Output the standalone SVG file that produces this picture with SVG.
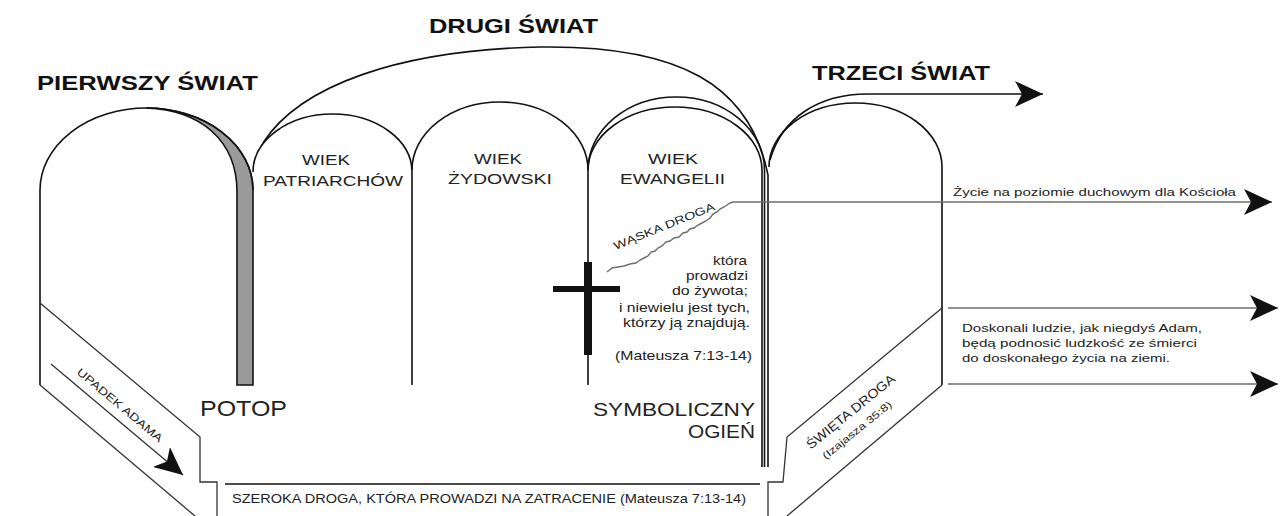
<svg xmlns="http://www.w3.org/2000/svg" width="1282" height="516" viewBox="0 0 1282 516">
<style>
.ln{fill:none;stroke:#111;stroke-width:1.6;stroke-linejoin:miter}
.thin{fill:none;stroke:#333;stroke-width:1.3}
.gr{fill:none;stroke:#6e6e6e;stroke-width:1.4}
.h{font-family:"Liberation Sans",Arial,sans-serif;font-weight:bold;font-size:21px;fill:#111}
.t{font-family:"Liberation Sans",Arial,sans-serif;fill:#222}
.w{font-size:15px}
.s{font-size:13px}
.xs{font-size:11px}
</style>
<defs>
<marker id="ah" viewBox="0 0 28 26" refX="28" refY="13" markerWidth="28" markerHeight="26" markerUnits="userSpaceOnUse" orient="auto">
<path d="M0,0 L28,13 L0,26 L7,13 Z" fill="#111"/>
</marker>
</defs>
<rect width="1282" height="516" fill="#fff"/>

<g id="pierwszy-swiat">
<path d="M146.5,108 C200,110 237,140 237,192 L237,385 L253,385 L253,190 A106.5,82 0 0 0 146.5,108 Z" fill="#9a9a9a" stroke="#111" stroke-width="1.6"/>
<path class="ln" d="M40,385 L40,190 A106.5,82 0 0 1 253,190"/>
<text class="h" x="37" y="90" textLength="221" lengthAdjust="spacingAndGlyphs">PIERWSZY ŚWIAT</text>
</g>

<g id="drugi-swiat">
<path class="ln" d="M263,143 C300,85 400,50 540,47 C680,45 750,85 768,175 L768,467"/>
<text class="h" x="429" y="33" textLength="169" lengthAdjust="spacingAndGlyphs">DRUGI ŚWIAT</text>
</g>

<g id="wiek-patriarchow">
<path class="ln" d="M253,172 A79.5,58 0 0 1 412,172 L412,385"/>
<text class="t w" x="302" y="165" textLength="48" lengthAdjust="spacingAndGlyphs">WIEK</text>
<text class="t w" x="263" y="186" textLength="140" lengthAdjust="spacingAndGlyphs">PATRIARCHÓW</text>
</g>

<g id="wiek-zydowski">
<path class="ln" d="M412,170 A88,68 0 0 1 588,170 L588,385"/>
<text class="t w" x="474" y="164" textLength="48" lengthAdjust="spacingAndGlyphs">WIEK</text>
<text class="t w" x="448" y="184" textLength="104" lengthAdjust="spacingAndGlyphs">ŻYDOWSKI</text>
</g>

<g id="wiek-ewangelii">
<path class="ln" d="M588,170 A87,63 0 0 1 762,170 L762,467"/>
<path class="ln" d="M588,170 A88.25,73 0 0 1 764.5,170 L764.5,467"/>
<text class="t w" x="648" y="164" textLength="50" lengthAdjust="spacingAndGlyphs">WIEK</text>
<text class="t w" x="620" y="184" textLength="105" lengthAdjust="spacingAndGlyphs">EWANGELII</text>
</g>

<g id="trzeci-swiat">
<path class="ln" d="M769,167 A86.5,64 0 0 1 942,167 L942,385"/>
<text class="h" x="812" y="80" textLength="178" lengthAdjust="spacingAndGlyphs">TRZECI ŚWIAT</text>
</g>

<g id="krzyz">
<rect x="584" y="262" width="8" height="93" fill="#111"/>
<rect x="553" y="286" width="67" height="6" fill="#111"/>
</g>

<g id="waska-droga">
<text class="t xs" transform="translate(664,226) rotate(-22)" x="0" y="4" text-anchor="middle" textLength="108" lengthAdjust="spacingAndGlyphs">WĄSKA DROGA</text>
<text class="t s" x="713" y="265" textLength="34" lengthAdjust="spacingAndGlyphs">która</text>
<text class="t s" x="686" y="280" textLength="62" lengthAdjust="spacingAndGlyphs">prowadzi</text>
<text class="t s" x="672" y="295" textLength="76" lengthAdjust="spacingAndGlyphs">do żywota;</text>
<text class="t s" x="619" y="312" textLength="131" lengthAdjust="spacingAndGlyphs">i niewielu jest tych,</text>
<text class="t s" x="623" y="327" textLength="127" lengthAdjust="spacingAndGlyphs">którzy ją znajdują.</text>
<text class="t s" x="615" y="360" textLength="137" lengthAdjust="spacingAndGlyphs">(Mateusza 7:13-14)</text>
</g>

<g id="potop">
<text class="t" font-size="22" x="200" y="416" textLength="87" lengthAdjust="spacingAndGlyphs">POTOP</text>
</g>

<g id="symboliczny-ogien">
<text class="t" font-size="18" x="593" y="416" textLength="162" lengthAdjust="spacingAndGlyphs">SYMBOLICZNY</text>
<text class="t" font-size="18" x="688" y="438" textLength="67" lengthAdjust="spacingAndGlyphs">OGIEŃ</text>
</g>

<g id="upadek-adama">
<path class="thin" d="M40,303 L200,437 L200,482 L217,482 L217,516"/>
<path class="thin" d="M40,385 L195,516"/>
<text class="t" font-size="11" transform="translate(120,405) rotate(40)" x="0" y="4" text-anchor="middle" textLength="108" lengthAdjust="spacingAndGlyphs">UPADEK ADAMA</text>
</g>

<g id="szeroka-droga">
<path class="ln" stroke-width="2.2" d="M225,484 L760,484"/>
<text class="t s" x="232" y="503" textLength="514" lengthAdjust="spacingAndGlyphs">SZEROKA DROGA, KTÓRA PROWADZI NA ZATRACENIE (Mateusza 7:13-14)</text>
</g>

<g id="swieta-droga">
<path class="thin" d="M768,516 L768,482 L783,482 L787,437 L942,308"/>
<path class="thin" d="M787,516 L942,385"/>
<text class="t s" transform="translate(851,412) rotate(-39)" x="0" y="4" text-anchor="middle" textLength="110" lengthAdjust="spacingAndGlyphs">ŚWIĘTA DROGA</text>
<text class="t" font-size="10" transform="translate(857,430) rotate(-39)" x="0" y="3.5" text-anchor="middle" textLength="86" lengthAdjust="spacingAndGlyphs">(Izajasza 35:8)</text>
</g>

<g id="zycie-duchowe">
<text class="t xs" x="953" y="196" textLength="283" lengthAdjust="spacingAndGlyphs">Życie na poziomie duchowym dla Kościoła</text>
</g>

<g id="doskonali-ludzie">
<text class="t xs" x="962" y="332" textLength="240" lengthAdjust="spacingAndGlyphs">Doskonali ludzie, jak niegdyś Adam,</text>
<text class="t xs" x="962" y="347" textLength="235" lengthAdjust="spacingAndGlyphs">będą podnosić ludzkość ze śmierci</text>
<text class="t xs" x="962" y="362" textLength="208" lengthAdjust="spacingAndGlyphs">do doskonałego życia na ziemi.</text>
</g>

<g id="connectors">
<path class="ln" stroke-width="2" d="M770,160 C782,118 818,94 868,94 L1043,94" marker-end="url(#ah)"/>
<path class="gr" d="M607,272 L612,268 L618,267 L624,266 L630,264 L636,263 L640,260 L644,258 L648,256 L651,252 L655,251 L658,248 L662,246 L666,242 L670,241 L674,238 L679,237 L683,233 L687,232 L690,229 L694,228 L698,225 L702,223 L706,221 L710,218 L713,214 L717,212 L720,209 L724,207 L727,205 L730,203 L733,202 L1272,202" marker-end="url(#ah)"/>
<path class="gr" d="M948,308 L1278,308" marker-end="url(#ah)"/>
<path class="gr" d="M948,384 L1278,384" marker-end="url(#ah)"/>
<path class="thin" d="M51,364 L183,475" marker-end="url(#ah)"/>
</g>
</svg>
